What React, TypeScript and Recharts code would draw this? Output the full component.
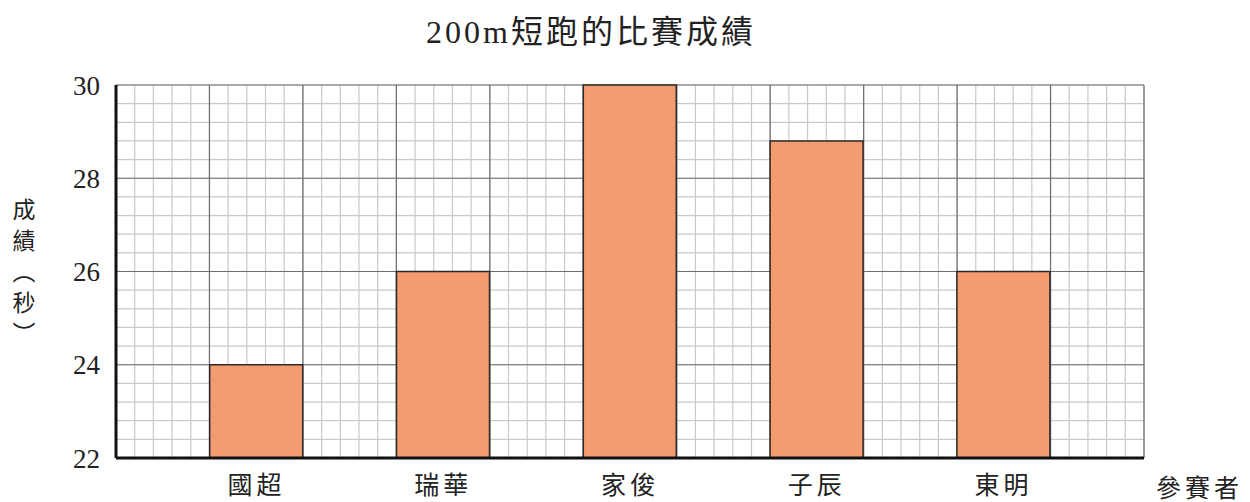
import { BarChart, Bar, XAxis, YAxis, CartesianGrid } from "recharts";

const players = ["國超", "瑞華", "家俊", "子辰", "東明"];
const times = [24, 26, 30, 28.8, 26];
const yTicks = [22, 24, 26, 28, 30];

// graph paper: 55 cells across, 20 cells up, a darker line every 5 cells
const cellsX = 55;
const cellsY = 20;
const majorEvery = 5;

const data = players.map((name, i) => ({ name, time: times[i] }));

const cjk = '"Noto Sans CJK TC", "Noto Sans CJK SC", sans-serif';
const serif = '"Liberation Serif", "DejaVu Serif", serif';

type GenProps = { offset: { left: number; top: number; width: number; height: number } };

const cols = (major: boolean) => ({ offset }: GenProps) =>
  Array.from({ length: cellsX + 1 }, (_, i) => i)
    .filter((i) => !major || i % majorEvery === 0)
    .map((i) => offset.left + (offset.width * i) / cellsX);

const rows = (major: boolean) => ({ offset }: GenProps) =>
  Array.from({ length: cellsY + 1 }, (_, i) => i)
    .filter((i) => !major || i % majorEvery === 0)
    .map((i) => offset.top + (offset.height * i) / cellsY);

export default function App() {
  return (
    <div style={{ position: "absolute", left: 0, top: 0, width: 1250, height: 502, background: "#fff" }}>
      <div
        style={{
          position: "absolute",
          left: 0,
          width: 1182,
          top: 6,
          textAlign: "center",
          fontSize: 32,
          letterSpacing: 3,
          fontFamily: `"Liberation Serif", ${cjk}`,
          color: "#222",
        }}
      >
        200m短跑的比賽成績
      </div>
      <div
        style={{
          position: "absolute",
          left: 12,
          top: 198,
          writingMode: "vertical-rl",
          fontSize: 23,
          letterSpacing: 8,
          fontFamily: cjk,
          color: "#222",
          lineHeight: 1,
        }}
      >
        成績（秒）
      </div>
      <div
        style={{
          position: "absolute",
          left: 1156,
          top: 468,
          fontSize: 25,
          fontFamily: cjk,
          color: "#222",
          letterSpacing: 4,
          whiteSpace: "nowrap",
        }}
      >
        參賽者
      </div>
      <BarChart
        width={1250}
        height={502}
        data={data}
        margin={{ top: 85, right: 106, bottom: 0, left: 56 }}
        barCategoryGap="25%"
      >
        <CartesianGrid
          stroke="#c9c9c9"
          strokeWidth={1.2}
          verticalCoordinatesGenerator={cols(false)}
          horizontalCoordinatesGenerator={rows(false)}
        />
        <CartesianGrid
          stroke="#6e6e6e"
          strokeWidth={1.2}
          verticalCoordinatesGenerator={cols(true)}
          horizontalCoordinatesGenerator={rows(true)}
        />
        <XAxis
          dataKey="name"
          padding={{ left: 47, right: 47 }}
          axisLine={{ stroke: "#111", strokeWidth: 3 }}
          tickLine={false}
          height={44}
          tick={{ fontSize: 25, fontFamily: cjk, fill: "#222", letterSpacing: 4 }}
          tickMargin={12}
        />
        <YAxis
          domain={[22, 30]}
          ticks={yTicks}
          width={60}
          axisLine={{ stroke: "#111", strokeWidth: 3 }}
          tickLine={false}
          tick={{ fontSize: 27, fontFamily: serif, fill: "#222" }}
          tickMargin={10}
        />
        <Bar
          dataKey="time"
          fill="#f59b70"
          stroke="#2a2a2a"
          strokeWidth={1.5}
          isAnimationActive={false}
        />
      </BarChart>
    </div>
  );
}
